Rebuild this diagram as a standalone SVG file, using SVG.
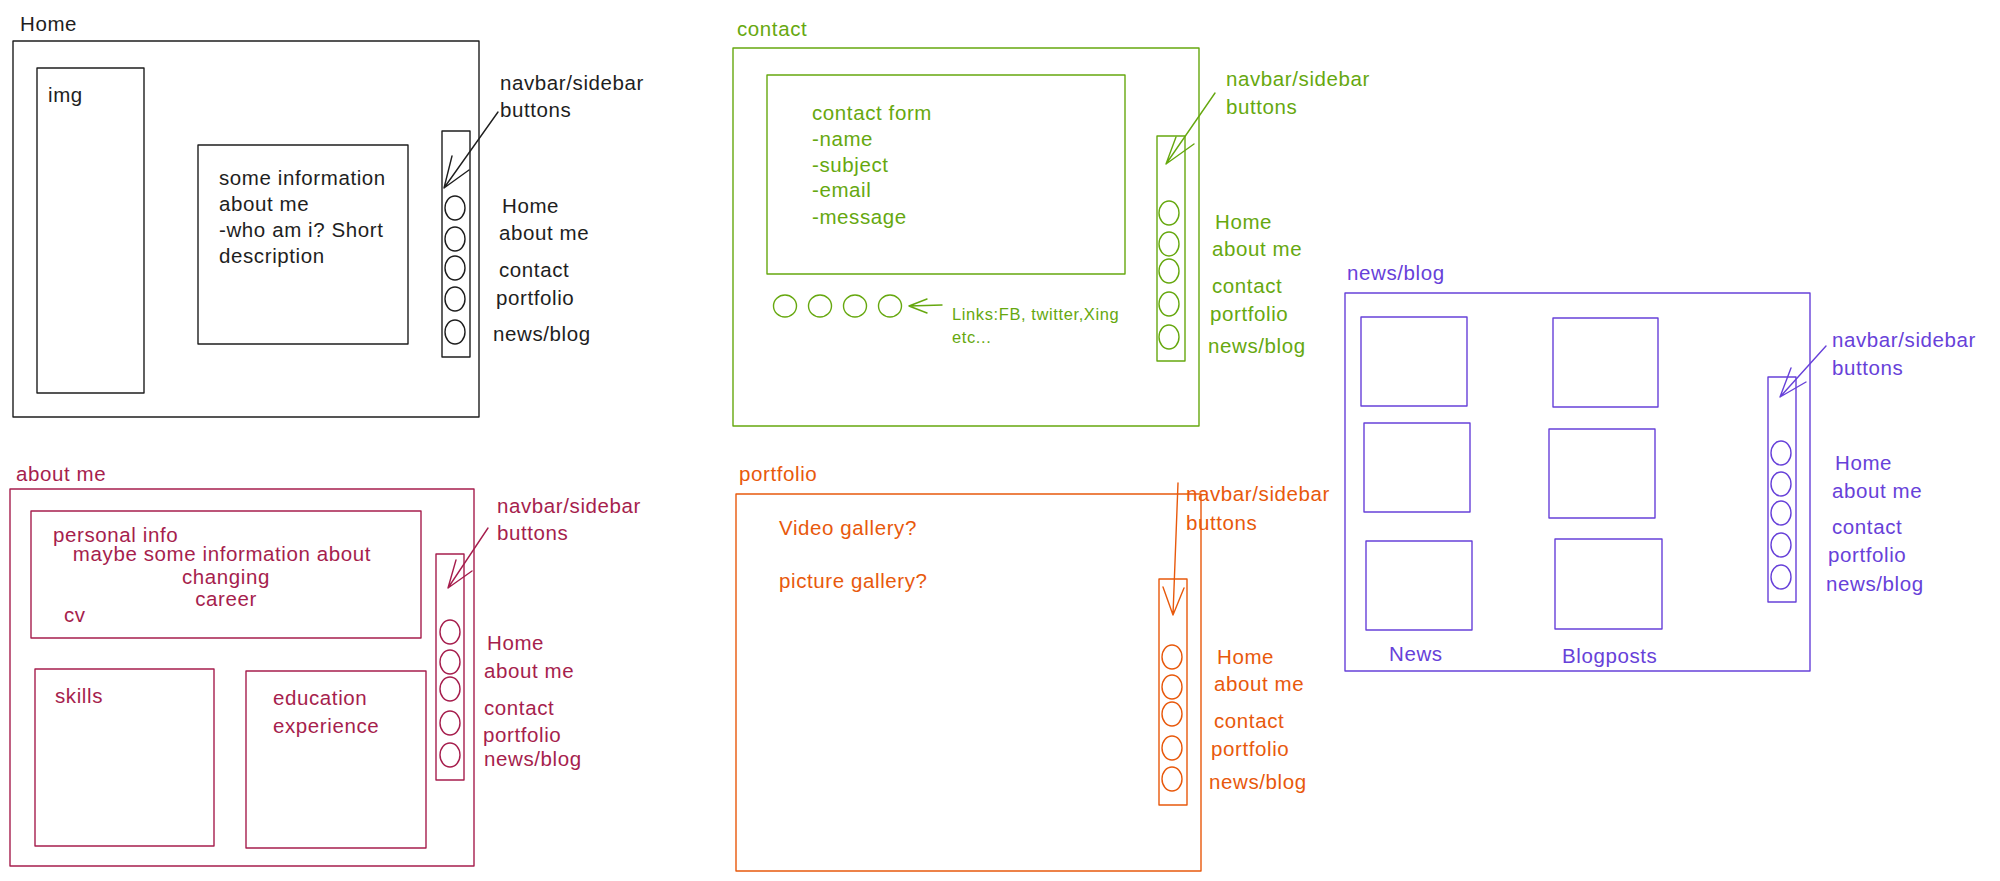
<svg xmlns="http://www.w3.org/2000/svg" width="2000" height="881" viewBox="0 0 2000 881">
<style>
text{font-family:"Liberation Sans",Arial,sans-serif;font-size:20.5px;letter-spacing:0.6px;dominant-baseline:central}
.s{fill:none;stroke-width:1.4;stroke-linecap:round;stroke-linejoin:round}
.k{stroke:#1e1e1e}.tk{fill:#1e1e1e}
.g{stroke:#66a80f}.tg{fill:#66a80f}
.p{stroke:#6741d9}.tp{fill:#6741d9}
.r{stroke:#a61e4d}.tr{fill:#a61e4d}
.o{stroke:#e8590c}.to{fill:#e8590c}
.sm{font-size:16.5px}
</style>
<rect width="2000" height="881" fill="#ffffff"/>

<g id="home">
<text class="tk" x="20" y="23">Home</text>
<rect class="s k" x="13" y="41" width="466" height="376"/>
<g id="home-img"><rect class="s k" x="37" y="68" width="107" height="325"/><text class="tk" x="48" y="94">img</text></g>
<g id="home-info"><rect class="s k" x="198" y="145" width="210" height="199"/>
<text class="tk" x="219" y="177">some information</text>
<text class="tk" x="219" y="203">about me</text>
<text class="tk" x="219" y="229">-who am i? Short</text>
<text class="tk" x="219" y="255">description</text></g>
<g id="home-sidebar"><rect class="s k" x="442" y="131" width="28" height="226"/>
<ellipse class="s k" cx="455" cy="208" rx="10" ry="12"/><ellipse class="s k" cx="455" cy="239" rx="10" ry="12"/><ellipse class="s k" cx="455" cy="268" rx="10" ry="12"/><ellipse class="s k" cx="455" cy="299" rx="10" ry="12"/><ellipse class="s k" cx="455" cy="332" rx="10" ry="12"/></g>
<text class="tk" x="500" y="82">navbar/sidebar</text>
<text class="tk" x="500" y="109">buttons</text>
<text class="tk" x="502" y="205">Home</text>
<text class="tk" x="499" y="232">about me</text>
<text class="tk" x="499" y="269">contact</text>
<text class="tk" x="496" y="297">portfolio</text>
<text class="tk" x="493" y="333">news/blog</text>
</g>

<g id="contact">
<text class="tg" x="737" y="28">contact</text>
<rect class="s g" x="733" y="48" width="466" height="378"/>
<g id="contact-form"><rect class="s g" x="767" y="75" width="358" height="199"/>
<text class="tg" x="812" y="112">contact form</text>
<text class="tg" x="812" y="138">-name</text>
<text class="tg" x="812" y="164">-subject</text>
<text class="tg" x="812" y="189">-email</text>
<text class="tg" x="812" y="216">-message</text></g>
<g id="contact-links"><ellipse class="s g" cx="785" cy="306" rx="11.5" ry="11"/><ellipse class="s g" cx="820" cy="306" rx="11.5" ry="11"/><ellipse class="s g" cx="855" cy="306" rx="11.5" ry="11"/><ellipse class="s g" cx="890" cy="306" rx="11.5" ry="11"/>
<text class="tg sm" x="952" y="314">Links:FB, twitter,Xing</text>
<text class="tg sm" x="952" y="337">etc...</text></g>
<g id="contact-sidebar"><rect class="s g" x="1157" y="136" width="28" height="225"/>
<ellipse class="s g" cx="1169" cy="213" rx="10" ry="12"/><ellipse class="s g" cx="1169" cy="244" rx="10" ry="12"/><ellipse class="s g" cx="1169" cy="271" rx="10" ry="12"/><ellipse class="s g" cx="1169" cy="304" rx="10" ry="12"/><ellipse class="s g" cx="1169" cy="337" rx="10" ry="12"/></g>
<text class="tg" x="1226" y="78">navbar/sidebar</text>
<text class="tg" x="1226" y="106">buttons</text>
<text class="tg" x="1215" y="221">Home</text>
<text class="tg" x="1212" y="248">about me</text>
<text class="tg" x="1212" y="285">contact</text>
<text class="tg" x="1210" y="313">portfolio</text>
<text class="tg" x="1208" y="345">news/blog</text>
</g>

<g id="newsblog">
<text class="tp" x="1347" y="272">news/blog</text>
<rect class="s p" x="1345" y="293" width="465" height="378"/>
<rect class="s p" x="1361" y="317" width="106" height="89"/>
<rect class="s p" x="1553" y="318" width="105" height="89"/>
<rect class="s p" x="1364" y="423" width="106" height="89"/>
<rect class="s p" x="1549" y="429" width="106" height="89"/>
<rect class="s p" x="1366" y="541" width="106" height="89"/>
<rect class="s p" x="1555" y="539" width="107" height="90"/>
<text class="tp" x="1389" y="653">News</text>
<text class="tp" x="1562" y="655">Blogposts</text>
<g id="newsblog-sidebar"><rect class="s p" x="1768" y="377" width="28" height="225"/>
<ellipse class="s p" cx="1781" cy="453" rx="10" ry="12"/><ellipse class="s p" cx="1781" cy="484" rx="10" ry="12"/><ellipse class="s p" cx="1781" cy="513" rx="10" ry="12"/><ellipse class="s p" cx="1781" cy="545" rx="10" ry="12"/><ellipse class="s p" cx="1781" cy="577" rx="10" ry="12"/></g>
<text class="tp" x="1832" y="339">navbar/sidebar</text>
<text class="tp" x="1832" y="367">buttons</text>
<text class="tp" x="1835" y="462">Home</text>
<text class="tp" x="1832" y="490">about me</text>
<text class="tp" x="1832" y="526">contact</text>
<text class="tp" x="1828" y="554">portfolio</text>
<text class="tp" x="1826" y="583">news/blog</text>
</g>

<g id="aboutme">
<text class="tr" x="16" y="473">about me</text>
<rect class="s r" x="10" y="489" width="464" height="377"/>
<g id="aboutme-personal"><rect class="s r" x="31" y="511" width="390" height="127"/>
<text class="tr" x="53" y="534">personal info</text>
<text class="tr" x="222" y="553" text-anchor="middle">maybe some information about</text>
<text class="tr" x="226" y="576" text-anchor="middle">changing</text>
<text class="tr" x="226" y="598" text-anchor="middle">career</text>
<text class="tr" x="64" y="614">cv</text></g>
<g id="aboutme-skills"><rect class="s r" x="35" y="669" width="179" height="177"/><text class="tr" x="55" y="695">skills</text></g>
<g id="aboutme-edu"><rect class="s r" x="246" y="671" width="180" height="177"/>
<text class="tr" x="273" y="697">education</text>
<text class="tr" x="273" y="725">experience</text></g>
<g id="aboutme-sidebar"><rect class="s r" x="436" y="554" width="28" height="226"/>
<ellipse class="s r" cx="450" cy="632" rx="10" ry="12"/><ellipse class="s r" cx="450" cy="662" rx="10" ry="12"/><ellipse class="s r" cx="450" cy="689" rx="10" ry="12"/><ellipse class="s r" cx="450" cy="723" rx="10" ry="12"/><ellipse class="s r" cx="450" cy="755" rx="10" ry="12"/></g>
<text class="tr" x="497" y="505">navbar/sidebar</text>
<text class="tr" x="497" y="532">buttons</text>
<text class="tr" x="487" y="642">Home</text>
<text class="tr" x="484" y="670">about me</text>
<text class="tr" x="484" y="707">contact</text>
<text class="tr" x="483" y="734">portfolio</text>
<text class="tr" x="484" y="758">news/blog</text>
</g>

<g id="portfolio">
<text class="to" x="739" y="473">portfolio</text>
<rect class="s o" x="736" y="494" width="465" height="377"/>
<text class="to" x="779" y="527">Video gallery?</text>
<text class="to" x="779" y="580">picture gallery?</text>
<g id="portfolio-sidebar"><rect class="s o" x="1159" y="579" width="28" height="226"/>
<ellipse class="s o" cx="1172" cy="657" rx="10" ry="12"/><ellipse class="s o" cx="1172" cy="687" rx="10" ry="12"/><ellipse class="s o" cx="1172" cy="714" rx="10" ry="12"/><ellipse class="s o" cx="1172" cy="748" rx="10" ry="12"/><ellipse class="s o" cx="1172" cy="779" rx="10" ry="12"/></g>
<text class="to" x="1186" y="493">navbar/sidebar</text>
<text class="to" x="1186" y="522">buttons</text>
<text class="to" x="1217" y="656">Home</text>
<text class="to" x="1214" y="683">about me</text>
<text class="to" x="1214" y="720">contact</text>
<text class="to" x="1211" y="748">portfolio</text>
<text class="to" x="1209" y="781">news/blog</text>
</g>

<g id="connectors">
<path class="s k" d="M498 112 L444 188 M452 156 L444 188 L469 170"/>
<path class="s g" d="M942 305 L909 306 M927 299 L909 306 L927 313"/>
<path class="s g" d="M1215 93 L1166 164 M1176 137 L1166 164 L1194 144"/>
<path class="s p" d="M1826 346 L1780 397 M1791 368 L1780 397 L1806 382"/>
<path class="s r" d="M488 528 L448 588 M456 560 L448 588 L472 571"/>
<path class="s o" d="M1178 483 L1173 615 M1163 587 L1173 615 L1184 588"/>
</g>
</svg>
